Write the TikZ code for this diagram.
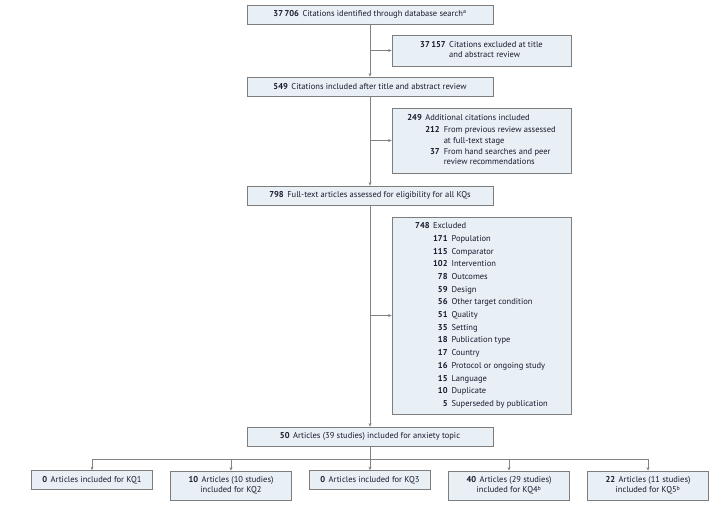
\documentclass[tikz,border=0pt]{standalone}
\usepackage{fontspec}
\setmainfont{PT Sans}
\usetikzlibrary{arrows.meta}
\definecolor{boxc}{RGB}{232,240,245}
\definecolor{bordc}{RGB}{125,125,125}
\definecolor{linec}{RGB}{130,130,130}
\definecolor{txtc}{RGB}{25,25,45}
\newcommand{\fs}{\fontsize{8.5}{10.2}\selectfont}
\newcommand{\sps}[1]{\textsuperscript{#1}}
\tikzset{
  box/.style={draw=bordc, fill=boxc, line width=0.6pt, inner sep=0pt, text=txtc, font=\fs, align=center},
  wide/.style={minimum width=246pt, minimum height=19pt},
  side/.style={minimum width=179pt},
  kq/.style={minimum width=121.5pt},
  arr/.style={draw=linec, line width=0.6pt, -{Stealth[length=3.6pt,width=3pt]}},
  ln/.style={draw=linec, line width=0.6pt}
}
\begin{document}
\begin{tikzpicture}[x=1pt,y=-1pt]
\useasboundingbox (0,0) rectangle (722,507);
\fill[white] (0,0) rectangle (722,507);

\node[box,wide] (b1) at (370,14.5) {\textbf{37\,706}\hspace{3.5pt}Citations identified through database search\sps{a}};
\node[box,side,minimum height=31pt] (b2) at (481.5,50.5) {\begin{tabular}{@{}r@{\hspace{3.5pt}}l@{}}\textbf{37\,157} & Citations excluded at title\\ & and abstract review\end{tabular}};
\node[box,wide] (b3) at (370,86.5) {\textbf{549}\hspace{3.5pt}Citations included after title and abstract review};
\node[box,side,minimum height=65pt] (b4) at (481.5,140.5) {\begin{tabular}{@{}r@{\hspace{3.5pt}}r@{\hspace{4pt}}l@{}}
\textbf{249} & \multicolumn{2}{@{}l@{}}{Additional citations included}\\[2.5pt]
& \textbf{212} & From previous review assessed\\
& & at full-text stage\\[1.5pt]
& \textbf{37} & From hand searches and peer\\
& & review recommendations
\end{tabular}};
\node[box,wide] (b5) at (370,195.5) {\textbf{798}\hspace{3.5pt}Full-text articles assessed for eligibility for all KQs};
\node[box,side,minimum height=197pt] (b6) at (481.5,315.5) {\begin{tabular}{@{}r@{\hspace{3.5pt}}r@{\hspace{4pt}}l@{}}
\textbf{748} & \multicolumn{2}{@{}l@{}}{Excluded}\\[2.5pt]
& \textbf{171} & Population\\[2.5pt]
& \textbf{115} & Comparator\\[2.5pt]
& \textbf{102} & Intervention\\[2.5pt]
& \textbf{78} & Outcomes\\[2.5pt]
& \textbf{59} & Design\\[2.5pt]
& \textbf{56} & Other target condition\\[2.5pt]
& \textbf{51} & Quality\\[2.5pt]
& \textbf{35} & Setting\\[2.5pt]
& \textbf{18} & Publication type\\[2.5pt]
& \textbf{17} & Country\\[2.5pt]
& \textbf{16} & Protocol or ongoing study\\[2.5pt]
& \textbf{15} & Language\\[2.5pt]
& \textbf{10} & Duplicate\\[2.5pt]
& \textbf{5} & Superseded by publication
\end{tabular}};
\node[box,wide] (b7) at (370,436.5) {\textbf{50}\hspace{3.5pt}Articles (39 studies) included for anxiety topic};

\node[box,kq,minimum height=19pt] (k1) at (92,480) {\textbf{0}\hspace{3.5pt}Articles included for KQ1};
\node[box,kq,minimum height=29pt] (k2) at (231,485.5) {\textbf{10}\hspace{3.5pt}Articles (10 studies)\\included for KQ2};
\node[box,kq,minimum height=19pt] (k3) at (370,480) {\textbf{0}\hspace{3.5pt}Articles included for KQ3};
\node[box,kq,minimum height=29pt] (k4) at (509,485.5) {\textbf{40}\hspace{3.5pt}Articles (29 studies)\\included for KQ4\sps{b}};
\node[box,kq,minimum height=29pt] (k5) at (648,485.5) {\textbf{22}\hspace{3.5pt}Articles (11 studies)\\included for KQ5\sps{b}};

\draw[arr] (b1) -- (b3);
\draw[arr] (b1.south |- b2.west) -- (b2.west);
\draw[arr] (b3) -- (b5);
\draw[arr] (b3.south |- b4.west) -- (b4.west);
\draw[arr] (b5) -- (b7);
\draw[arr] (b5.south |- b6.west) -- (b6.west);

\coordinate (hub) at (370,459);
\draw[ln] (b7.south) -- (hub);
\draw[ln] (k1.north |- hub) -- (k5.north |- hub);
\foreach \k in {k1,k2,k3,k4,k5}{
  \draw[arr] (\k.north |- hub) -- (\k.north);
}
\end{tikzpicture}
\end{document}
